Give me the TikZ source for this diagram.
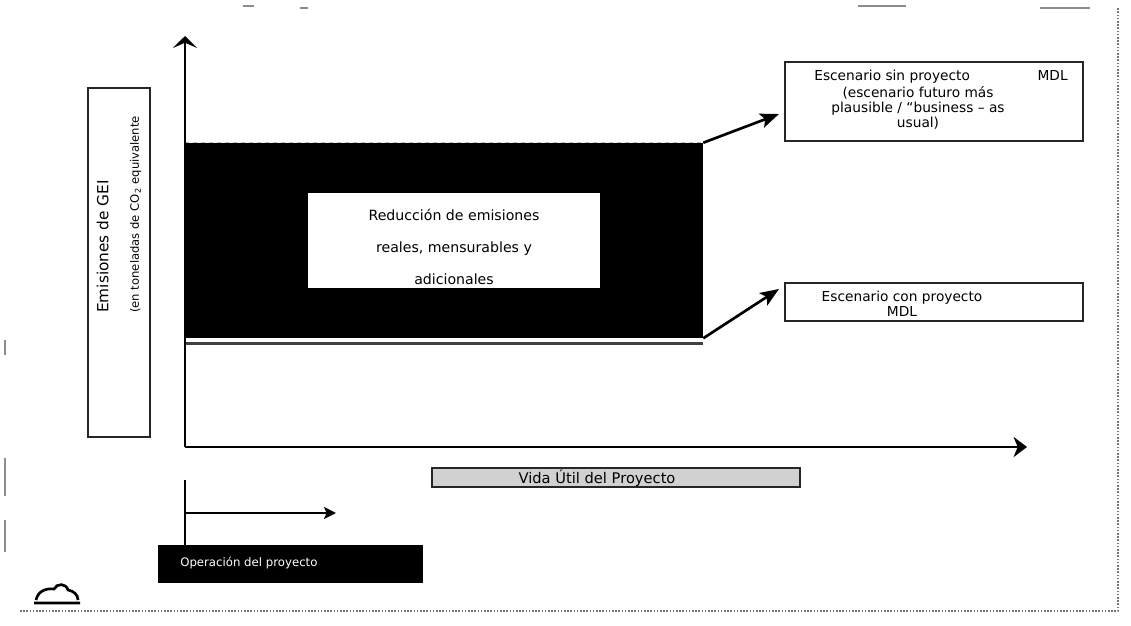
\documentclass[tikz,border=0pt]{standalone}
\usepackage{fontspec}
\setmainfont{DejaVu Sans}
\usetikzlibrary{arrows.meta,calc}

\begin{document}
\begin{tikzpicture}[x=0.75pt,y=-0.75pt,
  box/.style 2 args={minimum width=0.75pt*#1,minimum height=0.75pt*#2,inner sep=0pt},
  axis/.style={line width=2.2pt,-{Stealth[length=9pt,width=18pt,inset=4pt]}},
  pointer/.style={line width=2pt,-{Stealth[length=14pt,width=11pt,inset=3pt]}},
  labelbox/.style={draw=black!85,line width=0.9pt,fill=white},
  txt/.style={font=\fontsize{10.3}{11.3}\selectfont,align=center,inner sep=0pt},
  speckle/.style={black!55,line width=1.6pt,dash pattern=on 1.2pt off 1.2pt},
  scanmark/.style={black!45,line width=0.8pt}]

\useasboundingbox (0,0) rectangle (1131,625);

% page border and edge marks
\draw[speckle] (20,611) -- (1118,611) -- (1118,8);
\draw[scanmark] (243,6) -- (254,6) (300,8) -- (308,8) (858,6) -- (906,6) (1040,8) -- (1090,8)
  (5,340) -- (5,355) (5,458) -- (5,496) (5,520) -- (5,552);

% emission band between the two scenarios
\node[fill=black,box={518}{195}] (band) at (444,240.5) {};
\draw[white!70!black,line width=0.8pt,dashed] (band.north west) -- (band.north east);
\coordinate (lowL) at (185,343.5);
\coordinate (lowR) at (703,343.5);
\draw[black!75,line width=2.4pt] (lowL) -- (lowR);

% central label
\node[fill=white,box={292}{95}] (redbox) at (454,240.5) {};
\node[font=\fontsize{10.6}{24}\selectfont,align=center,inner sep=0pt] (redtxt) at (454,247)
  {Reducción de emisiones\\reales, mensurables y\\adicionales};

% axes
\coordinate (origin) at (185,447);
\coordinate (ytop) at (185,36);
\coordinate (xend) at (1027,447);
\draw[axis] (origin) -- (ytop);
\draw[axis,-{Stealth[length=10pt,width=15pt,inset=3pt]}] (origin) -- (xend);

% y-axis label
\node[labelbox,box={62}{349}] (ybox) at (119,262.5) {};
\node[txt,font=\fontsize{8.7}{23}\selectfont,align=left,rotate=90,anchor=west] (ytxt) at (119,313)
  {{\fontsize{11.5}{23}\selectfont Emisiones de GEI}\\(en toneladas de CO\textsubscript{2} equivalente};

% scenario boxes
\node[labelbox,box={298}{79}] (sin) at (934,101.5) {};
\node[txt] (sinhead) at (941,77) {\makebox[190pt]{Escenario sin proyecto\hfill MDL}};
\node[txt] (sintxt) at (918,108)
  {(escenario futuro más\\plausible / “business – as\\usual)};
\node[labelbox,box={298}{38}] (con) at (934,302) {};
\node[txt] (contxt) at (902,304) {Escenario con proyecto\\MDL};

\coordinate (sintip) at (779,114);
\coordinate (contip) at (779,289);
\draw[pointer] (band.north east) -- (sintip);
\draw[pointer] (band.south east) -- (contip);

% project lifetime
\node[labelbox,fill=black!18,box={368}{19}] (vida) at (616,477.5) {};
\node[txt,font=\fontsize{11}{12}\selectfont] (vidatxt) at (597,478) {Vida Útil del Proyecto};

% project operation
\node[fill=black,box={265}{38}] (oper) at (290.5,564) {};
\node[txt,font=\fontsize{8.8}{10}\selectfont,text=white,anchor=west] (opertxt) at (180,563) {Operación del proyecto};
\coordinate (opstart) at (185,480);
\coordinate (opmid) at (185,513);
\coordinate (opend) at (336,513);
\draw[line width=1.6pt] (opstart) -- (opstart |- oper.north);
\draw[line width=1.6pt,-{Stealth[length=9pt,width=9pt,inset=2pt]}] (opmid) -- (opend);

% logo mark
\draw[line width=2pt] (34,603) -- (80,603) (36,600) .. controls (38,591) and (46,588) .. (54,589)
  .. controls (57,583) and (66,583) .. (68,590) .. controls (74,591) and (78,595) .. (78,600);
\end{tikzpicture}
\end{document}
